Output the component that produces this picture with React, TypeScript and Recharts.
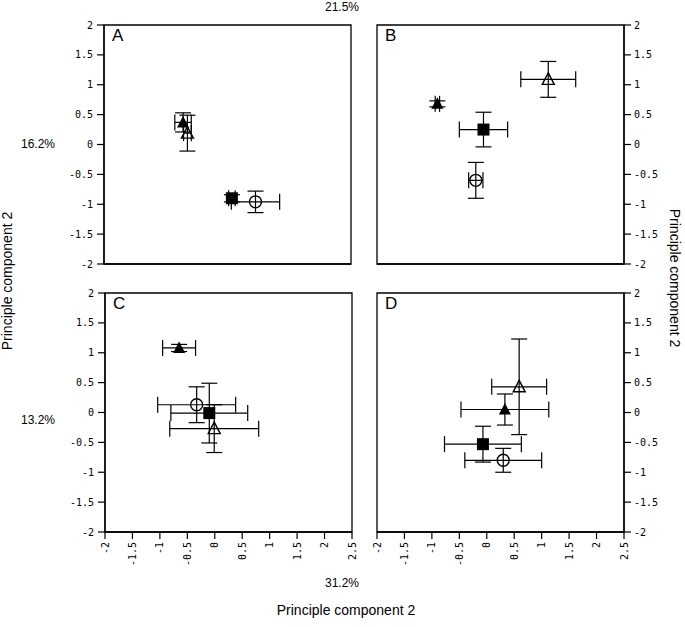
import React from 'react'
import { ScatterChart, Scatter, XAxis, YAxis, ErrorBar, ReferenceArea } from 'recharts'

// marker kinds, drawn in this order in every panel
const MARKERS = ['filledTriangle', 'openTriangle', 'filledSquare', 'openCircle']

const X_TICKS = [-2, -1.5, -1, -0.5, 0, 0.5, 1, 1.5, 2, 2.5]
const Y_TICKS = [-2, -1.5, -1, -0.5, 0, 0.5, 1, 1.5, 2]

// [x, y, x error, y error] per marker
const panelA = [
  [-0.56, 0.37, 0.15, 0.16],
  [-0.48, 0.19, 0.07, 0.3],
  [0.33, -0.9, 0.06, 0.06],
  [0.76, -0.96, 0.44, 0.18],
]
const panelB = [
  [-0.9, 0.68, 0.04, 0.05],
  [1.12, 1.09, 0.5, 0.3],
  [-0.06, 0.25, 0.44, 0.29],
  [-0.2, -0.6, 0.13, 0.3],
]
const panelC = [
  [-0.65, 1.08, 0.3, 0.06],
  [-0.01, -0.27, 0.81, 0.4],
  [-0.1, -0.01, 0.7, 0.5],
  [-0.33, 0.13, 0.71, 0.3],
]
const panelD = [
  [0.33, 0.05, 0.8, 0.26],
  [0.59, 0.43, 0.5, 0.8],
  [-0.07, -0.53, 0.7, 0.3],
  [0.3, -0.8, 0.7, 0.2],
]

const PLOT_W = 247
const PLOT_H = 239

const drawMarker = (kind: string) => (props: any) => {
  const { cx, cy } = props
  if (cx == null || cy == null) return <g />
  const sw = 1.4
  if (kind === 'filledTriangle' || kind === 'openTriangle') {
    const pts = `${cx},${cy - 6.5} ${cx - 6},${cy + 5} ${cx + 6},${cy + 5}`
    return kind === 'filledTriangle'
      ? <polygon points={pts} fill="#000" />
      : <polygon points={pts} fill="none" stroke="#000" strokeWidth={sw} />
  }
  if (kind === 'filledSquare') {
    return <rect x={cx - 6} y={cy - 6} width={12} height={12} fill="#000" />
  }
  return <circle cx={cx} cy={cy} r={6} fill="none" stroke="#000" strokeWidth={sw} />
}

const monoTick = { fontSize: 10, fill: '#000', fontFamily: 'DejaVu Sans Mono' }

const RotatedTick = (props: any) => {
  const { x, y, payload } = props
  return (
    <text
      x={x}
      y={y}
      transform={`rotate(-90, ${x}, ${y})`}
      textAnchor="end"
      dominantBaseline="central"
      {...monoTick}
    >
      {payload.value}
    </text>
  )
}

interface PanelProps {
  letter: string
  rows: number[][]
  left: number
  top: number
  yRight?: boolean
  xLabels?: boolean
}

const Panel: React.FC<PanelProps> = ({ letter, rows, left, top, yRight, xLabels }) => {
  const yw = 60
  const xh = xLabels ? 40 : 10
  const margin = { top: 10, right: yRight ? 0 : 10, bottom: 0, left: yRight ? 10 : 0 }
  const width = PLOT_W + yw + 10
  const height = PLOT_H + xh + 10
  const chartLeft = yRight ? left - 10 : left - yw
  return (
    <div style={{ position: 'absolute', left: chartLeft, top: top - 10 }}>
      <ScatterChart width={width} height={height} margin={margin}>
        <XAxis
          type="number"
          dataKey="x"
          domain={[-2, 2.5]}
          ticks={X_TICKS}
          interval={0}
          height={xh}
          tickSize={7}
          tickMargin={3}
          tick={xLabels ? <RotatedTick /> : false}
          axisLine={{ stroke: '#000', strokeWidth: 1.3 }}
          tickLine={{ stroke: '#000', strokeWidth: 1.2 }}
        />
        <YAxis
          type="number"
          dataKey="y"
          domain={[-2, 2]}
          ticks={Y_TICKS}
          interval={0}
          width={yw}
          orientation={yRight ? 'right' : 'left'}
          tickSize={7}
          tickMargin={yRight ? 3 : 4}
          tick={monoTick}
          axisLine={{ stroke: '#000', strokeWidth: 1.3 }}
          tickLine={{ stroke: '#000', strokeWidth: 1.2 }}
        />
        <ReferenceArea x1={-2} x2={2.5} y1={-2} y2={2} fill="none" stroke="#000" strokeWidth={1.3} />
        {MARKERS.map((kind, i) => (
          <Scatter
            key={kind}
            data={[{ x: rows[i][0], y: rows[i][1], ex: rows[i][2], ey: rows[i][3] }]}
            shape={drawMarker(kind)}
            isAnimationActive={false}
          >
            <ErrorBar dataKey="ex" direction="x" width={8} stroke="#000" strokeWidth={1.2} />
            <ErrorBar dataKey="ey" direction="y" width={8} stroke="#000" strokeWidth={1.2} />
          </Scatter>
        ))}
      </ScatterChart>
      <div
        style={{
          position: 'absolute',
          left: (yRight ? 10 : yw) + 8,
          top: 12,
          fontSize: 17,
          fontFamily: 'Liberation Sans, Arial, sans-serif',
          lineHeight: 1,
        }}
      >
        {letter}
      </div>
    </div>
  )
}

const labelFont = 'Liberation Sans, Arial, sans-serif'

export default function App() {
  return (
    <div style={{ position: 'absolute', left: 0, top: 0, width: 685, height: 627, background: '#fff' }}>
      <Panel letter="A" rows={panelA} left={104} top={25} />
      <Panel letter="B" rows={panelB} left={377} top={25} yRight />
      <Panel letter="C" rows={panelC} left={105} top={293} xLabels />
      <Panel letter="D" rows={panelD} left={377} top={293} yRight xLabels />
      <svg width={685} height={627} style={{ position: 'absolute', left: 0, top: 0, pointerEvents: 'none' }}>
        <g fontFamily={labelFont} fill="#000">
          <text x={342} y={11} fontSize={12} textAnchor="middle">21.5%</text>
          <text x={38} y={148} fontSize={12} textAnchor="middle">16.2%</text>
          <text x={38} y={424} fontSize={12} textAnchor="middle">13.2%</text>
          <text x={342} y={587} fontSize={12} textAnchor="middle">31.2%</text>
          <text x={346} y={615} fontSize={14} textAnchor="middle">Principle component 2</text>
          <text x={12} y={281} fontSize={14} textAnchor="middle" transform="rotate(-90, 12, 281)">
            Principle component 2
          </text>
          <text x={670} y={278} fontSize={14} textAnchor="middle" transform="rotate(90, 670, 278)">
            Principle component 2
          </text>
        </g>
      </svg>
    </div>
  )
}
